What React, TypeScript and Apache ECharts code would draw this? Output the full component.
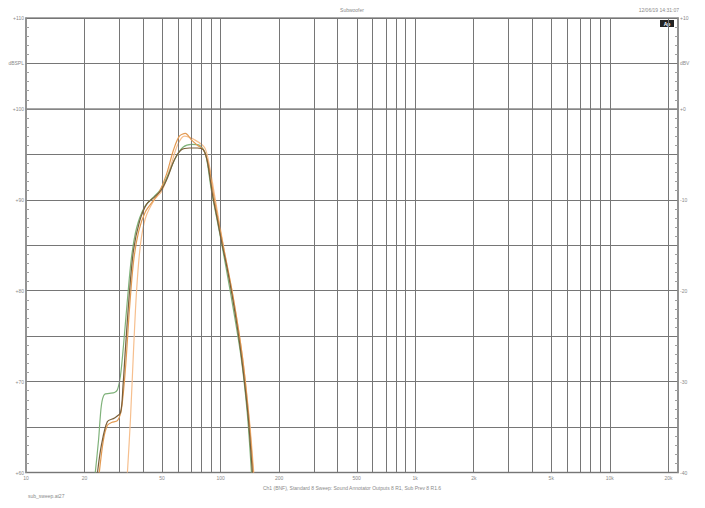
import React, { useEffect, useRef } from "react";
import * as echarts from "echarts";

// ---- data (Hz, dBSPL) ----
const darkHz = [23.3, 24.4, 26.2, 28.5, 30.6, 31.5, 32.4, 34, 35.7, 38.3, 41.6, 45.7, 49.6, 53.3, 57.9, 62.9, 69.2, 76, 81.6, 85.5, 90.8, 96.3, 102, 108.4, 115, 122, 128, 134, 139, 145.6];
const darkDb = [60, 63, 65.6, 66, 66.6, 69.5, 73.5, 79.8, 84.5, 87.6, 89.5, 90.3, 91.1, 92.4, 94.4, 95.5, 95.7, 95.7, 95.5, 94.2, 90.6, 87.8, 85, 82.3, 79.3, 75.9, 72.7, 69.1, 65.8, 60];

const orangeHz = [23.8, 25, 26.2, 27.5, 29.5, 30.9, 32.4, 34, 35.7, 37.9, 41.1, 44.7, 48.5, 52.7, 57.3, 61.4, 65.9, 70.8, 76, 81.6, 86.6, 91.9, 103, 116, 129.5, 140, 147];
const orangeDb = [60, 63.6, 65.2, 65.5, 65.7, 66.9, 71.3, 77.9, 83.2, 86.5, 88.7, 89.8, 90.9, 92.8, 95.5, 97, 97.3, 96.6, 96, 95.5, 93.9, 90.6, 85, 79.3, 72.7, 65.8, 60];

const peachHz = [33.2, 34.4, 35.7, 37, 38.7, 41.1, 45.7, 50, 55, 60, 65.2, 73.5, 83, 88, 94, 104, 117, 130, 141, 148];
const peachDb = [60, 65.8, 73.5, 80, 85, 88, 90, 91, 93.5, 96, 97, 96.6, 95.7, 93.5, 90, 84.6, 78.8, 72.4, 65.5, 60];

const greenHz = [22.7, 23.6, 24.4, 25.3, 26.8, 28.5, 29.5, 30.6, 31.7, 33.2, 34.8, 37, 40.6, 44.7, 49, 53.3, 58.6, 64.3, 70.8, 77.9, 83.7, 89.6, 101, 113, 127, 137, 144];
const greenDb = [60, 63.6, 67.4, 68.6, 68.7, 68.8, 69.1, 70.7, 74, 79, 83.6, 86.9, 89.2, 90.2, 91.1, 92.6, 94.6, 95.8, 96.1, 96, 95, 91.1, 85.3, 79.5, 72.9, 66.6, 60];

const xLabelHz = [10, 20, 50, 100, 200, 500, 1000, 2000, 5000, 10000, 20000];
const xGridHz = [20, 30, 40, 50, 60, 70, 80, 90, 100, 200, 300, 400, 500, 600, 700, 800, 900, 1000, 2000, 3000, 4000, 5000, 6000, 7000, 8000, 9000, 10000, 20000];
const leftLabels: Record<number, string> = { 60: "+60", 70: "+70", 80: "+80", 90: "+90", 100: "+100", 105: "dBSPL", 110: "+110" };
const rightLabels: Record<number, string> = { [-40]: "-40", [-30]: "-30", [-20]: "-20", [-10]: "-10", 0: "+0", 5: "dBV", 10: "+10" };

const TITLE = "Subwoofer";
const DATE = "12/06/19 14:31:07";
const X_TITLE = "Ch1 (BNF), Standard 8 Sweep: Sound Annotator Outputs 8 R1, Sub Prev 8 R1.6";
const FILE_NAME = "sub_sweep.at27";

const FONT = "Liberation Sans, Arial, sans-serif";
const TXT = "#8a8a8a";

function pairs(hz: number[], db: number[]) {
  return hz.map((f, i) => [Math.log10(f), db[i]]);
}

function fmtHz(v: number) {
  const f = Math.round(Math.pow(10, v));
  return f >= 1000 ? f / 1000 + "k" : String(f);
}

export default function App() {
  const ref = useRef<HTMLDivElement>(null);
  useEffect(() => {
    const chart = echarts.init(ref.current!, null, { renderer: "svg" });
    const lineSeries = (name: string, data: number[][], color: string, z: number) => ({
      name,
      type: "line",
      data,
      showSymbol: false,
      smooth: 0.3,
      z,
      lineStyle: { color, width: 1.2 },
      itemStyle: { color },
    });
    chart.setOption({
      animation: false,
      backgroundColor: "#ffffff",
      textStyle: { fontFamily: FONT },
      grid: { left: 26, right: 27, top: 18, bottom: 35.5, show: true, borderColor: "#8c8c8c", borderWidth: 1.5, backgroundColor: "transparent" },
      xAxis: {
        type: "value",
        min: 1,
        max: Math.log10(22400),
        name: X_TITLE,
        nameLocation: "middle",
        nameGap: 12,
        nameTextStyle: { color: TXT, fontSize: 5, fontFamily: FONT },
        axisLine: { lineStyle: { color: "#8c8c8c", width: 1.5 } },
        axisTick: { show: false },
        splitLine: { show: false },
        axisLabel: {
          customValues: xLabelHz.map((f) => Math.log10(f)),
          formatter: (v: number) => fmtHz(v),
          color: TXT,
          fontSize: 5,
          margin: 3,
          showMinLabel: true,
          showMaxLabel: true,
        },
      },
      yAxis: [
        {
          type: "value",
          min: 60,
          max: 110,
          interval: 5,
          position: "left",
          axisLine: { show: true, lineStyle: { color: "#8c8c8c", width: 1.5 } },
          axisTick: { show: false, inside: true },
          minorTick: { show: true, splitNumber: 5, length: 3, lineStyle: { color: "#a0a0a0" } },
          splitLine: { show: true, lineStyle: { color: "#767676", width: 1 } },
          axisLabel: {
            formatter: (v: number) => leftLabels[v] ?? "",
            color: TXT,
            fontSize: 5,
            margin: 2,
          },
        },
        {
          type: "value",
          min: -40,
          max: 10,
          interval: 5,
          position: "right",
          axisLine: { show: true, lineStyle: { color: "#8c8c8c", width: 1.5 } },
          axisTick: { show: false, inside: true },
          minorTick: { show: true, splitNumber: 5, length: 3, lineStyle: { color: "#a0a0a0" } },
          splitLine: { show: false },
          axisLabel: {
            formatter: (v: number) => rightLabels[v] ?? "",
            color: TXT,
            fontSize: 5,
            margin: 2,
          },
        },
      ],
      series: [
        {
          name: "grid",
          type: "line",
          data: [],
          silent: true,
          markLine: {
            silent: true,
            symbol: "none",
            label: { show: false },
            lineStyle: { color: "#767676", width: 1, type: "solid" },
            data: xGridHz.map((f) => ({ xAxis: Math.log10(f) })),
          },
        },
        lineSeries("Peach", pairs(peachHz, peachDb), "#f6bf8e", 3),
        lineSeries("Green", pairs(greenHz, greenDb), "#7fb27a", 4),
        lineSeries("Orange", pairs(orangeHz, orangeDb), "#e39a52", 5),
        lineSeries("Dark", pairs(darkHz, darkDb), "#7a5f3a", 6),
      ],
      graphic: [
        { type: "text", x: 352, y: 10, style: { text: TITLE, fill: TXT, font: `5px ${FONT}`, textAlign: "center", textVerticalAlign: "middle" } },
        { type: "text", x: 679, y: 10, style: { text: DATE, fill: TXT, font: `5px ${FONT}`, textAlign: "right", textVerticalAlign: "middle" } },
        { type: "rect", shape: { x: 660, y: 20, width: 14, height: 7 }, style: { fill: "#222" } },
        { type: "text", x: 667, y: 23.5, style: { text: "Ap", fill: "#fff", font: `bold 5px ${FONT}`, textAlign: "center", textVerticalAlign: "middle" } },
        { type: "text", x: 28, y: 496, style: { text: FILE_NAME, fill: TXT, font: `5px ${FONT}`, textAlign: "left", textVerticalAlign: "middle" } },
      ],
    });
    return () => chart.dispose();
  }, []);
  return <div ref={ref} style={{ position: "fixed", left: 0, top: 0, width: 705, height: 508 }} />;
}
